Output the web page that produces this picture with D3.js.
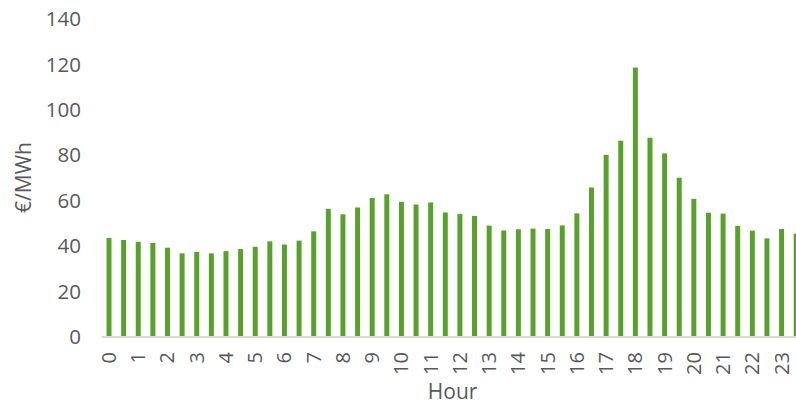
<!DOCTYPE html>
<html>
<head>
<meta charset="utf-8">
<script src="https://cdn.jsdelivr.net/npm/d3@7"></script>
<style>
  html, body { margin: 0; padding: 0; background: #fff; overflow: hidden; }
  text { font-family: "Open Sans", "Noto Sans", sans-serif; fill: #595959; }
</style>
</head>
<body>
<svg id="chart" width="796" height="405"></svg>
<script>
// Half-hourly day-ahead prices (€/MWh), two periods per hour
const periods = d3.range(48);
const prices = [
  43.4, 42.5, 41.7, 41.2, 39.1, 36.6, 37.2, 36.6, 37.6, 38.5, 39.5, 41.9,
  40.5, 42.2, 46.3, 56.2, 53.8, 56.8, 61.0, 62.6, 59.3, 58.1, 59.0, 54.6,
  54.0, 53.1, 48.8, 46.7, 47.2, 47.5, 47.3, 48.9, 54.2, 65.6, 80.0, 86.2,
  118.4, 87.5, 80.6, 69.9, 60.6, 54.5, 54.1, 48.7, 46.6, 43.2, 47.3, 45.3
];
const hourLabels = d3.range(24).map(String);
const yTicks = [0, 20, 40, 60, 80, 100, 120, 140];

const svg = d3.select("#chart");

const x = d3.scaleBand()
  .domain(periods)
  .range([101.7, 803.5])
  .paddingInner(0.66)
  .paddingOuter(0.33);

const y = d3.scaleLinear()
  .domain([0, 140])
  .range([336.5, 18.5]);

// y axis tick labels (no axis line, no gridlines)
const yAxis = d3.axisLeft(y).tickValues(yTicks).tickSize(0).tickPadding(0);
svg.append("g")
  .attr("transform", "translate(81,0)")
  .call(yAxis)
  .call(g => g.select(".domain").remove())
  .selectAll("text")
  .attr("font-size", 20.5)
  .attr("font-family", "'Open Sans', 'Noto Sans', sans-serif")
  .attr("fill", "#595959")
  .attr("dy", "0.35em");

// bars
svg.append("g")
  .selectAll("rect")
  .data(prices)
  .join("rect")
  .attr("x", (d, i) => x(i))
  .attr("width", x.bandwidth())
  .attr("y", d => y(d))
  .attr("height", d => y(0) - y(d))
  .attr("fill", "#58a12a");

// baseline
svg.append("line")
  .attr("x1", x.range()[0])
  .attr("x2", x.range()[1])
  .attr("y1", y(0) + 0.5)
  .attr("y2", y(0) + 0.5)
  .attr("stroke", "#d9d9d9")
  .attr("stroke-width", 2);

// hour labels under the first period of each hour, rotated
svg.append("g")
  .selectAll("text")
  .data(hourLabels)
  .join("text")
  .attr("transform", (d, i) => `translate(${x(i * 2) + x.bandwidth() / 2},352) rotate(-90)`)
  .attr("text-anchor", "end")
  .attr("dy", "0.35em")
  .attr("font-size", 20)
  .text(d => d);

// axis titles
svg.append("text")
  .attr("x", (x.range()[0] + x.range()[1]) / 2)
  .attr("y", 399)
  .attr("text-anchor", "middle")
  .attr("font-size", 21)
  .text("Hour");

svg.append("text")
  .attr("transform", "translate(31,177.5) rotate(-90)")
  .attr("text-anchor", "middle")
  .attr("font-size", 21)
  .text("€/MWh");
</script>
</body>
</html>
